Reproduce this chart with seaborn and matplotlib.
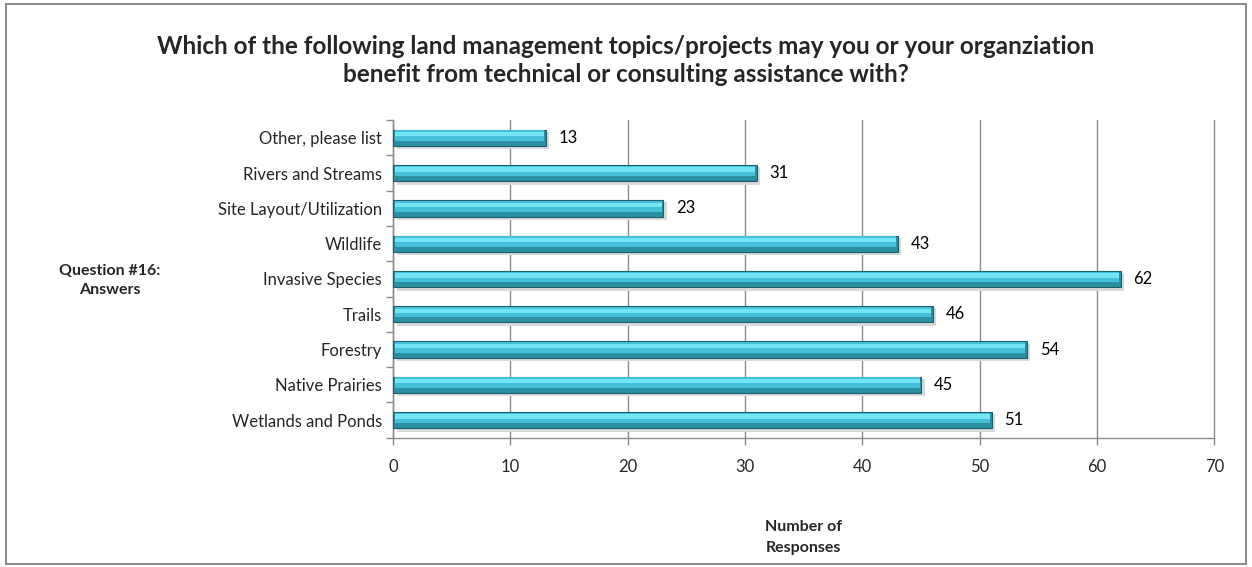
import pandas as pd
import matplotlib.pyplot as plt
import seaborn as sns
from matplotlib.patches import Rectangle

# Datos (de arriba hacia abajo)
answers = ['Other, please list', 'Rivers and Streams', 'Site Layout/Utilization',
           'Wildlife', 'Invasive Species', 'Trails', 'Forestry',
           'Native Prairies', 'Wetlands and Ponds']
responses = [13, 31, 23, 43, 62, 46, 54, 45, 51]
x_ticks = [0, 10, 20, 30, 40, 50, 60, 70]

df = pd.DataFrame({'Answer': answers, 'Responses': responses})

sns.set_style('white')
plt.rcParams['font.family'] = ['Lato', 'DejaVu Sans']
plt.rcParams['xtick.bottom'] = True
plt.rcParams['ytick.left'] = True

fig = plt.figure(figsize=(12.52, 5.67), dpi=100)
ax = fig.add_axes([0.314, 0.228, 0.656, 0.56])

# marco gris de la figura
fig.patches.append(Rectangle((0.005, 0.006), 0.99, 0.987, transform=fig.transFigure,
                             fill=False, edgecolor='#8c8c8c', linewidth=1.5))

n = len(answers)

# sombra de las barras
sns.barplot(data=df, x='Responses', y='Answer', ax=ax, orient='h', width=0.5,
            color='#d9d9d9', saturation=1, zorder=2)
for p in ax.patches[:n]:
    p.set_y(p.get_y() + 0.08)
    p.set_x(p.get_x() + 0.3)
    p.set_edgecolor('none')

# barras principales (parte baja oscura)
sns.barplot(data=df, x='Responses', y='Answer', ax=ax, orient='h', width=0.46,
            color='#2b8fa2', saturation=1, edgecolor='#1d5f6c', linewidth=0.8, zorder=3)
# parte media
sns.barplot(data=df, x='Responses', y='Answer', ax=ax, orient='h', width=0.3,
            color='#45c0d8', saturation=1, zorder=4)
for p in ax.patches[2 * n:3 * n]:
    p.set_y(p.get_y() - 0.06)
    p.set_x(p.get_x() + 0.12)
    p.set_width(p.get_width() - 0.24)
    p.set_edgecolor('none')
# brillo superior
sns.barplot(data=df, x='Responses', y='Answer', ax=ax, orient='h', width=0.12,
            color='#72e4f4', saturation=1, zorder=5)
for p in ax.patches[3 * n:]:
    p.set_y(p.get_y() - 0.1)
    p.set_x(p.get_x() + 0.12)
    p.set_width(p.get_width() - 0.24)
    p.set_edgecolor('none')

for i, v in enumerate(responses):
    ax.text(v + 1.1, i, str(v), va='center', ha='left', fontsize=12, color='black')

ax.set_xlim(0, 70)
ax.set_xticks(x_ticks)
ax.set_ylim(n - 0.5, -0.5)
ax.set_yticks(range(n))
ax.set_yticklabels(answers)
ax.set_yticks([i - 0.5 for i in range(n + 1)], minor=True)
ax.tick_params(axis='y', which='major', length=0, pad=8, labelsize=12)
ax.tick_params(axis='y', which='minor', length=5, color='#8c8c8c', width=1,
               direction='out', left=True)
ax.tick_params(axis='x', length=5, color='#8c8c8c', width=1, direction='out',
               bottom=True, labelsize=12, pad=10)

ax.grid(axis='x', color='#8c8c8c', linewidth=1, zorder=0)
for gl in ax.get_xgridlines():
    gl.set_clip_on(False)
ax.set_axisbelow(True)
for s in ['top', 'right']:
    ax.spines[s].set_visible(False)
for s in ['left', 'bottom']:
    ax.spines[s].set_color('#8c8c8c')
    ax.spines[s].set_linewidth(1)

ax.set_xlabel('Number of\nResponses', fontsize=11.5, fontweight='bold', labelpad=33,
              linespacing=1.6)
ax.set_ylabel('')
fig.text(0.088, 0.505, 'Question #16:\nAnswers', ha='center', va='center',
         fontsize=11.5, fontweight='bold', linespacing=1.4)

fig.suptitle('Which of the following land management topics/projects may you or your organziation\n'
             'benefit from technical or consulting assistance with?',
             x=0.5, y=0.938, fontsize=17.5, fontweight='bold', linespacing=1.25)

fig.savefig('out.png', dpi=100)
